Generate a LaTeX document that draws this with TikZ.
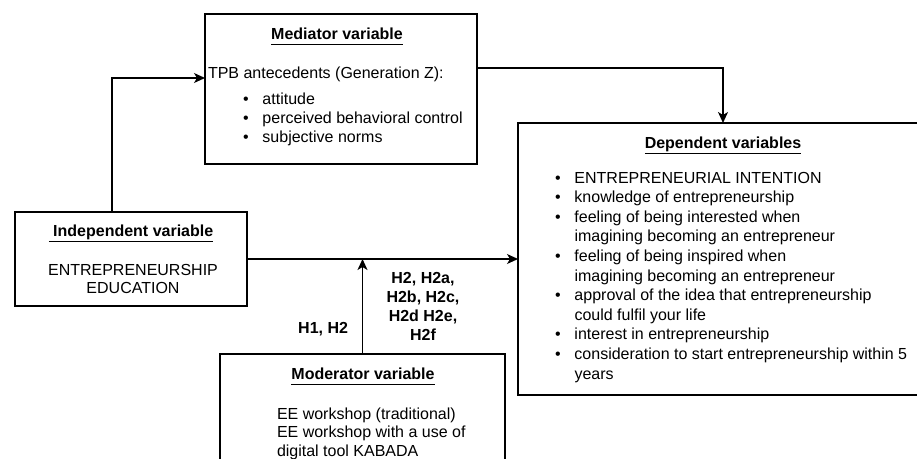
\documentclass[tikz,border=0pt]{standalone}
\usepackage{fontspec}
\setmainfont{Liberation Sans}
\usetikzlibrary{arrows.meta}
\newcommand{\vartitle}[1]{\underline{\textbf{#1}\vphantom{p}}}
\newcommand{\blt}{\makebox[19.5pt][l]{\textbullet}}

\begin{document}
\begin{tikzpicture}[x=1pt,y=-1pt,
  font=\fontsize{16}{19.5}\selectfont,
  box/.style={draw,line width=1.4pt,outer sep=0pt,inner sep=0pt},
  txt/.style={inner sep=0pt,outer sep=0pt},
  >={Stealth[length=11pt,width=10pt,inset=3pt]}, arr/.style={draw,->,line width=1.4pt}]
  \useasboundingbox (0,0) rectangle (917,458);
  \node[box,minimum width=272pt,minimum height=150pt](med) at (341,89){};
  \node[box,minimum width=232pt,minimum height=94pt](ind) at (131,259){};
  \node[box,minimum width=410pt,minimum height=272pt](dep) at (723,259){};
  \node[box,minimum width=285pt,minimum height=126pt](mod) at (362.5,417){};

  \node[txt,anchor=base](medt) at (337,39){\vartitle{Mediator variable}};
  \node[txt,anchor=base west](medtpb) at (208,78){TPB antecedents (Generation Z):};
  \node[txt,anchor=base west](medl) at (243,104){\fontsize{16}{19}\selectfont
    \begin{tabular}[t]{@{}l@{}l@{}}
    \blt & attitude\\ \blt & perceived behavioral control\\ \blt & subjective norms
    \end{tabular}};

  \node[txt,anchor=base](indt) at (131,236){\vartitle{\ Independent variable}};
  \node[txt,anchor=base](inde) at (133,275){\fontsize{16}{18}\selectfont
    \begin{tabular}[t]{@{}c@{}}ENTREPRENEURSHIP\\EDUCATION\end{tabular}};

  \node[txt,anchor=base](dept) at (723,148){\vartitle{Dependent variables}};
  \node[txt,anchor=base west](depl) at (555,183){\fontsize{16}{19.6}\selectfont
    \begin{tabular}[t]{@{}l@{}l@{}}
    \blt & ENTREPRENEURIAL INTENTION\\
    \blt & knowledge of entrepreneurship\\
    \blt & feeling of being interested when\\
         & imagining becoming an entrepreneur\\
    \blt & feeling of being inspired when\\
         & imagining becoming an entrepreneur\\
    \blt & approval of the idea that entrepreneurship\\
         & could fulfil your life\\
    \blt & interest in entrepreneurship\\
    \blt & consideration to start entrepreneurship within 5\\
         & years
    \end{tabular}};

  \node[txt,anchor=base](modt) at (363,379){\vartitle{Moderator variable}};
  \node[txt,anchor=base west](modl) at (277,419){\fontsize{16}{18.5}\selectfont
    \begin{tabular}[t]{@{}l@{}}
    EE workshop (traditional)\\EE workshop with a use of\\digital tool KABADA
    \end{tabular}};

  \node[txt,anchor=base east,font=\fontsize{16}{19.3}\bfseries](hone) at (348,333){H1, H2};
  \node[txt,anchor=base,font=\fontsize{16}{19.3}\bfseries](htwo) at (423,283){%
    \begin{tabular}[t]{@{}c@{}}H2, H2a,\\H2b, H2c,\\H2d H2e,\\H2f\end{tabular}};

  \draw[arr]([xshift=-19pt]ind.north) |- ([yshift=11pt]med.west);
  \draw[arr]([yshift=21pt]med.east) -| (dep.north);
  \draw[arr](ind.east) -- (dep.west);
  \draw[arr](mod.north) -- (mod.north |- ind.east);
\end{tikzpicture}
\end{document}
